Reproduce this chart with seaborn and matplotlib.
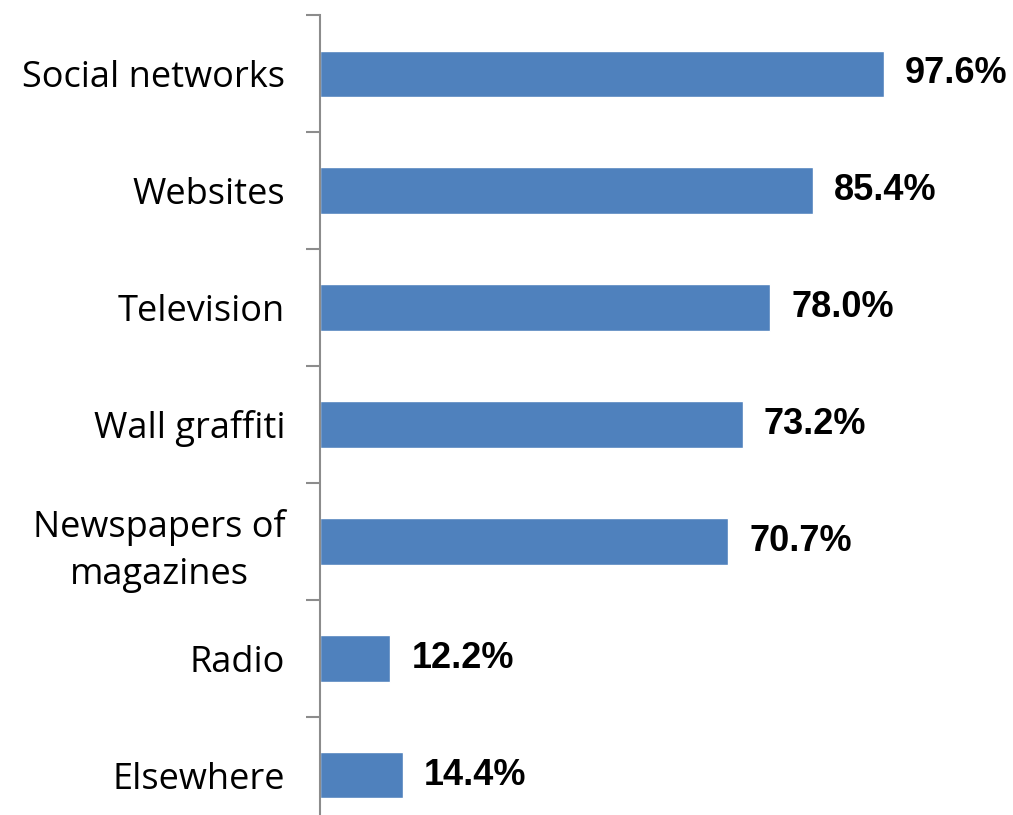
import matplotlib
matplotlib.use("Agg")
import matplotlib.pyplot as plt
import pandas as pd
import seaborn as sns

categories = ["Social networks", "Websites", "Television", "Wall graffiti",
              "Newspapers of\nmagazines", "Radio", "Elsewhere"]
values = [97.6, 85.4, 78.0, 73.2, 70.7, 12.2, 14.4]

BAR_COLOR = "#4F81BD"
AXIS_COLOR = "#8C8C8C"


def run():
    sns.set_style("white")
    plt.rcParams["font.family"] = ["Open Sans", "DejaVu Sans"]

    df = pd.DataFrame({"category": categories, "value": values})

    fig = plt.figure(figsize=(10.13, 8.15), dpi=100)
    ax = fig.add_axes([0.3159, -0.0227, 0.684, 1.0037])

    sns.barplot(data=df, x="value", y="category", orient="h", color=BAR_COLOR,
                width=0.4, saturation=1, ax=ax)

    ax.set_xlim(0, 120)
    ax.set_ylim(len(categories) - 0.5, -0.5)
    ax.set_xlabel("")
    ax.set_ylabel("")
    ax.set_xticks([])

    sns.despine(ax=ax, top=True, right=True, bottom=True, left=False)
    ax.spines["left"].set_color(AXIS_COLOR)
    ax.spines["left"].set_linewidth(1.5)

    # tick marks sit between the categories
    ax.set_yticks([i - 0.5 for i in range(len(categories) + 1)], minor=True)
    ax.tick_params(axis="y", which="minor", length=10, width=1.5, color=AXIS_COLOR, left=True)
    ax.tick_params(axis="y", which="major", length=0, pad=25, labelsize=26, labelcolor="black")
    for lbl in ax.get_yticklabels():
        lbl.set_multialignment("center")
        lbl.set_linespacing(1.4)

    ax.bar_label(ax.containers[0], labels=[f"{v:.1f}%" for v in values], padding=15,
                 fontsize=26, fontweight="bold", color="black",
                 family=["Liberation Sans", "DejaVu Sans"])

    fig.savefig("out.png", dpi=100)
    plt.close(fig)


if __name__ == "__main__":
    run()
